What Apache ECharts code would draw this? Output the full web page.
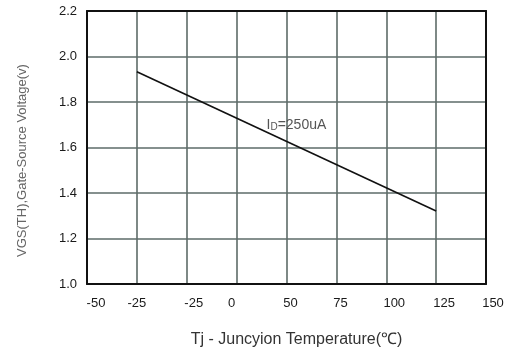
<!DOCTYPE html>
<html>
  <head>
    <meta http-equiv="Content-Type" content="text/html; charset=utf-8" />
    <title>VGS(TH) vs Tj</title>
    <style type="text/css">
    	html,body{margin:0;padding:0;background:#fff;}
    	#chart1{width:514px;height:354px;}
    </style>
	<script type="text/javascript" src="https://cdn.jsdelivr.net/npm/echarts@6/dist/echarts.min.js"></script>
  </head>
  <body>
	<div id="chart1"></div>
  </body>
  <script type="text/javascript">
  	// x轴刻度文字（照原图，原图中有两个 -25）
  	var xLabels = ['-50','-25','-25','0','50','75','100','125','150'];
  	var yLabels = ['1.0','1.2','1.4','1.6','1.8','2.0','2.2'];
  	// 曲线：结温 / 阈值电压
  	var tj = [-25, 125];
  	var vgs = [1.933, 1.321];
  	// 标注 ID=250uA （D 为小字）
  	var noteSub = 'D';
  	var noteMain = '=250uA';

  	// 标签左右微调（像素），原图的刻度字并不正对网格线
  	var xShift = [9, 0, 7, -5, 4, 4, 8, 8, 7];

  	var myChart = echarts.init(document.getElementById('chart1'));

  	var rich = {};
  	for (var i = 0; i < xShift.length; i++) {
  		var s = xShift[i];
  		rich['s' + i] = {
  			fontFamily: 'Liberation Sans',
  			fontSize: 13,
  			color: '#1a1a1a',
  			padding: s >= 0 ? [0, 0, 0, 2 * s] : [0, -2 * s, 0, 0]
  		};
  	}

  	var lineData = [];
  	for (var k = 0; k < tj.length; k++) {
  		lineData.push([tj[k], vgs[k]]);
  	}

  	var gridLine = {show: true, showMinLine: false, showMaxLine: false, lineStyle: {color: '#5d6b68', width: 1.6}};
  	var f = 'Liberation Sans';

	myChart.setOption({
		animation: false,
		grid: {left: 87, right: 28, top: 11, bottom: 70},
		xAxis: [{
			type: 'value',
			min: -50, max: 150, interval: 25,
			name: 'Tj - Juncyion Temperature(\u2103)',
			nameLocation: 'middle',
			nameGap: 48,
			nameTextStyle: {fontFamily: f, fontSize: 16, color: '#333', padding: [0, 0, 0, 20]},
			axisLine: {show: true, onZero: false, lineStyle: {color: '#111', width: 2}},
			axisTick: {show: false},
			splitLine: gridLine,
			axisLabel: {
				margin: 13,
				formatter: function (v) {
					var idx = Math.round((v + 50) / 25);
					return '{s' + idx + '|' + xLabels[idx] + '}';
				},
				rich: rich
			}
		}, {
			type: 'value', position: 'top',
			min: -50, max: 150, interval: 25,
			axisLine: {show: true, onZero: false, lineStyle: {color: '#111', width: 2}},
			axisTick: {show: false}, axisLabel: {show: false}, splitLine: {show: false}
		}],
		yAxis: [{
			type: 'value',
			min: 1.0, max: 2.2, interval: 0.2,
			name: 'VGS(TH),Gate-Source Voltage(v)',
			nameLocation: 'middle',
			nameGap: 58,
			nameTextStyle: {fontFamily: f, fontSize: 13, color: '#666', padding: [0, 26, 0, 0]},
			axisLine: {show: true, onZero: false, lineStyle: {color: '#111', width: 2}},
			axisTick: {show: false},
			splitLine: gridLine,
			axisLabel: {
				margin: 10,
				padding: [8, 0, 0, 0],
				fontFamily: f, fontSize: 13, color: '#1a1a1a',
				formatter: function (v) {
					var idx = Math.round((v - 1.0) / 0.2);
					return yLabels[idx];
				}
			}
		}, {
			type: 'value', position: 'right',
			min: 1.0, max: 2.2, interval: 0.2,
			axisLine: {show: true, onZero: false, lineStyle: {color: '#111', width: 2}},
			axisTick: {show: false}, axisLabel: {show: false}, splitLine: {show: false}
		}],
		series: [{
			type: 'line',
			data: lineData,
			symbol: 'none',
			lineStyle: {color: '#111', width: 1.6},
			markPoint: {
				symbol: 'rect', symbolSize: 0,
				data: [{coord: [40, 1.70], value: noteMain}],
				label: {
					show: true, position: 'right', distance: 0,
					formatter: '{i|I}{d|' + noteSub + '}{m|' + noteMain + '}',
					rich: {
						i: {fontFamily: f, fontSize: 14, color: '#555'},
						d: {fontFamily: f, fontSize: 10, color: '#555', verticalAlign: 'bottom'},
						m: {fontFamily: f, fontSize: 14, color: '#555'}
					}
				}
			}
		}]
	});
	</script>
</html>
